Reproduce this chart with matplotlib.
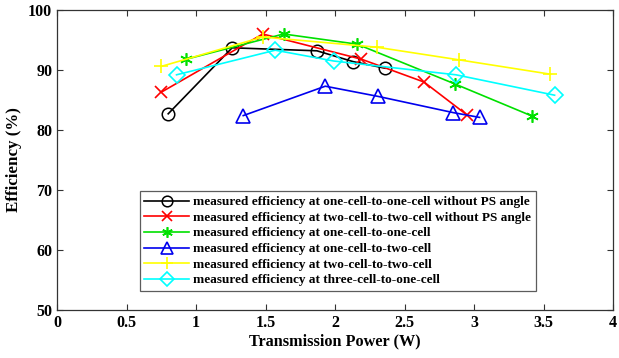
import matplotlib
matplotlib.use('Agg')
import matplotlib.pyplot as plt

plt.rcParams['font.family'] = ['Liberation Serif', 'DejaVu Serif']
plt.rcParams['font.weight'] = 'bold'

# transmission power (W) / efficiency (%)
x_oo_nops = [0.80, 1.26, 1.87, 2.13, 2.36]
y_oo_nops = [82.7, 93.7, 93.2, 91.4, 90.3]
x_tt_nops = [0.75, 1.48, 2.19, 2.64, 2.95]
y_tt_nops = [86.3, 96.0, 91.8, 88.0, 82.5]
x_oo = [0.93, 1.63, 2.16, 2.86, 3.42]
y_oo = [91.8, 96.0, 94.3, 87.7, 82.3]
x_ot = [1.34, 1.93, 2.31, 2.85, 3.04]
y_ot = [82.4, 87.3, 85.6, 82.9, 82.1]
x_tt = [0.75, 1.48, 2.30, 2.89, 3.55]
y_tt = [90.6, 95.5, 93.8, 91.7, 89.3]
x_thr = [0.86, 1.57, 1.99, 2.87, 3.58]
y_thr = [89.2, 93.3, 91.5, 89.2, 85.8]

labels = ['measured efficiency at one-cell-to-one-cell without PS angle',
          'measured efficiency at two-cell-to-two-cell without PS angle',
          'measured efficiency at one-cell-to-one-cell',
          'measured efficiency at one-cell-to-two-cell',
          'measured efficiency at two-cell-to-two-cell',
          'measured efficiency at three-cell-to-one-cell']

fig = plt.figure(figsize=(6.19, 3.58), dpi=100)
ax = fig.add_axes([57/619, 48/358, 556/619, 300/358])

lw = 1.2
ax.plot(x_oo_nops, y_oo_nops, '-o', color='k', mfc='none', ms=9, lw=lw, mew=1.1, label=labels[0])
ax.plot(x_tt_nops, y_tt_nops, '-x', color='#ff0000', ms=8, lw=lw, mew=1.2, label=labels[1])
ax.plot(x_oo, y_oo, '-', marker=(6, 2, 0), color='#00e000', ms=9, lw=lw, mew=1.2, label=labels[2])
ax.plot(x_ot, y_ot, '-^', color='#0000ee', mfc='none', ms=10, lw=lw, mew=1.2, label=labels[3])
ax.plot(x_tt, y_tt, '-+', color='#ffff00', ms=10, lw=lw, mew=1.2, label=labels[4])
ax.plot(x_thr, y_thr, '-D', color='#00ffff', mfc='none', ms=8, lw=lw, mew=1.2, label=labels[5])

ax.set_xlim(0, 4)
ax.set_ylim(50, 100)
ax.set_xticks([0, 0.5, 1, 1.5, 2, 2.5, 3, 3.5, 4])
ax.set_xticklabels(['0', '0.5', '1', '1.5', '2', '2.5', '3', '3.5', '4'])
ax.set_yticks([50, 60, 70, 80, 90, 100])
ax.tick_params(direction='in', top=True, right=True, labelsize=11.5, length=4, color='#333333')
for lab in ax.get_xticklabels() + ax.get_yticklabels():
    lab.set_fontweight('bold')
for s in ax.spines.values():
    s.set_color('#333333')
    s.set_linewidth(0.9)

ax.set_xlabel('Transmission Power (W)', fontsize=11.7, fontweight='bold', labelpad=2)
ax.set_ylabel('Efficiency (%)', fontsize=12.2, fontweight='bold', labelpad=4)

leg = ax.legend(loc='lower left', bbox_to_anchor=(0.149, 0.063), fontsize=9.5,
                frameon=True, fancybox=False, edgecolor='#333333', borderpad=0.35,
                labelspacing=0.26, handlelength=3.4, handletextpad=0.3,
                borderaxespad=0.0, markerscale=0.85)
leg.get_frame().set_linewidth(0.9)
for t in leg.get_texts():
    t.set_fontweight('bold')

fig.savefig('out.png', dpi=100)
